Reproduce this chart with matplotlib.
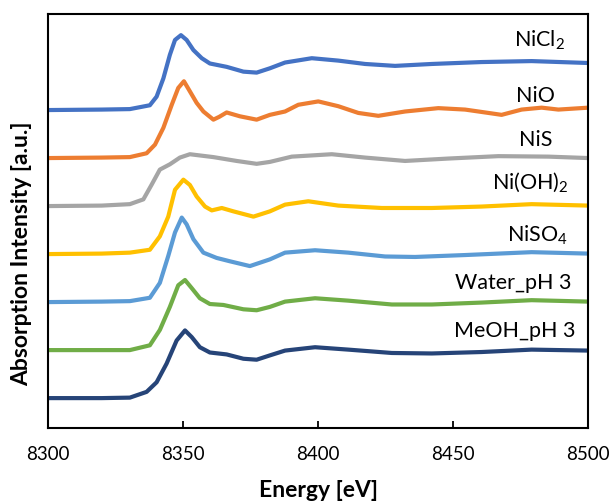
import matplotlib.pyplot as plt

plt.rcParams['font.family'] = ['Lato', 'DejaVu Sans']
plt.rcParams['mathtext.fontset'] = 'custom'
plt.rcParams['mathtext.rm'] = 'Lato'

# normalized Ni K-edge XANES (relative to pre-edge)
e_nicl2 = [8300, 8320, 8330.4, 8337.8, 8340.3, 8342.8, 8345.2, 8347.1, 8349.3, 8351.4, 8353.9,
           8357, 8360, 8366.2, 8372.4, 8377.3, 8382.2, 8387.8, 8397.7, 8407.5, 8417.4, 8428.5,
           8442.1, 8460.5, 8479, 8500]
mu_nicl2 = [0, 0.01, 0.02, 0.10, 0.28, 0.66, 1.15, 1.46, 1.56, 1.46, 1.25,
            1.08, 0.97, 0.90, 0.80, 0.78, 0.87, 0.99, 1.08, 1.03, 0.96, 0.92,
            0.96, 1.00, 1.02, 0.98]

e_nio = [8300, 8320, 8330.4, 8336.6, 8339.7, 8342.8, 8345.9, 8348.3, 8350.4, 8352.6, 8355.1,
         8357.6, 8361.3, 8363.5, 8366.2, 8371.1, 8377.3, 8382.2, 8387.8, 8392.7, 8400.1, 8407.5,
         8414.9, 8422.3, 8432.2, 8444.5, 8454.4, 8461.8, 8467.9, 8475.3, 8482.7, 8488.9, 8500]
mu_nio = [0, 0.01, 0.02, 0.10, 0.28, 0.63, 1.11, 1.46, 1.60, 1.39, 1.15,
          0.97, 0.80, 0.86, 0.95, 0.87, 0.80, 0.90, 0.97, 1.11, 1.18, 1.08,
          0.94, 0.88, 0.97, 1.04, 1.01, 0.95, 0.90, 1.01, 1.05, 1.01, 1.05]

e_nis = [8300, 8320, 8330.4, 8335.4, 8338.5, 8341.5, 8345.2, 8348.9, 8352.6, 8361.3, 8369.9,
         8377.3, 8382.2, 8390.3, 8405.1, 8417.4, 8432.2, 8448.2, 8466.7, 8485.2, 8500]
mu_nis = [0, 0.01, 0.04, 0.14, 0.45, 0.76, 0.87, 1.01, 1.08, 1.02, 0.94,
          0.88, 0.92, 1.03, 1.08, 1.01, 0.94, 0.99, 1.04, 1.03, 1.00]

e_nioh2 = [8300, 8320, 8330.4, 8337.8, 8341.5, 8344.6, 8347.1, 8350.2, 8352.6, 8355.1, 8358.2,
           8360.7, 8364.4, 8368.7, 8376.1, 8382.2, 8387.8, 8396.4, 8407.5, 8423.6, 8442.1,
           8460.5, 8479, 8500]
mu_nioh2 = [0, 0.01, 0.03, 0.09, 0.37, 0.78, 1.34, 1.55, 1.44, 1.20, 0.99,
            0.91, 0.96, 0.89, 0.78, 0.89, 1.03, 1.10, 1.01, 0.96, 0.96,
            0.99, 1.04, 1.01]

e_niso4 = [8300, 8320, 8330.4, 8337.8, 8341.5, 8344.6, 8347.1, 8349.6, 8351.4, 8353.9, 8357.6,
           8362.5, 8367.4, 8374.8, 8382.2, 8387.8, 8398.9, 8411.2, 8424.8, 8435.9, 8454.4,
           8479, 8500]
mu_niso4 = [0, 0.01, 0.02, 0.09, 0.40, 0.96, 1.45, 1.76, 1.62, 1.31, 1.03,
            0.92, 0.85, 0.75, 0.89, 1.03, 1.08, 1.03, 0.95, 0.94, 0.98,
            1.04, 1.01]

e_water = [8300, 8320, 8330.4, 8337.8, 8341.5, 8345.2, 8348.3, 8350.8, 8353.3, 8356.3, 8360,
           8365, 8372.4, 8377.3, 8382.2, 8387.8, 8398.9, 8411.2, 8427.3, 8442.1, 8460.5,
           8479, 8500]
mu_water = [0, 0.0, 0.0, 0.10, 0.42, 0.90, 1.35, 1.46, 1.29, 1.08, 0.96,
            0.94, 0.85, 0.83, 0.90, 1.01, 1.08, 1.03, 0.95, 0.95, 0.99,
            1.04, 1.01]

e_meoh = [8300, 8320, 8330.4, 8336.6, 8340.3, 8344, 8347.7, 8350.8, 8353.3, 8356.3, 8360,
          8366.2, 8372.4, 8377.3, 8382.2, 8387.8, 8398.9, 8411.2, 8427.3, 8442.1, 8460.5,
          8479, 8500]
mu_meoh = [0, 0.0, 0.01, 0.13, 0.33, 0.72, 1.20, 1.41, 1.27, 1.06, 0.95,
           0.91, 0.82, 0.80, 0.89, 0.99, 1.06, 1.01, 0.94, 0.93, 0.96,
           1.01, 0.99]

names = ['NiCl$\\mathregular{_2}$', 'NiO', 'NiS', 'Ni(OH)$\\mathregular{_2}$',
         'NiSO$\\mathregular{_4}$', 'Water_pH 3', 'MeOH_pH 3']
energies = [e_nicl2, e_nio, e_nis, e_nioh2, e_niso4, e_water, e_meoh]
spectra = [mu_nicl2, mu_nio, mu_nis, mu_nioh2, mu_niso4, mu_water, mu_meoh]
offsets = [6.63, 5.63, 4.63, 3.63, 2.63, 1.63, 0.63]
colors = ['#4472C4', '#ED7D31', '#A5A5A5', '#FFC000', '#5B9BD5', '#70AD47', '#264478']

# label anchor (right edge) and baseline height
label_x = [8491.4, 8487.7, 8486.7, 8492.6, 8492.6, 8493.9, 8495.2]
label_y = [7.95, 6.80, 5.88, 5.00, 3.89, 2.90, 1.90]

fig = plt.figure(figsize=(6.11, 5.01), dpi=100)
ax = fig.add_axes([0.078, 0.145, 0.885, 0.8265])

for e, mu, off, c in zip(energies, spectra, offsets, colors):
    ax.plot(e, [m + off for m in mu], color=c, lw=3.0,
            solid_capstyle='butt', solid_joinstyle='round')

for name, x, y in zip(names, label_x, label_y):
    ax.text(x, y, name, ha='right', va='baseline', fontsize=15.5)

ax.set_xlim(8300, 8500)
ax.set_ylim(0, 8.625)
ax.set_xticks([8300, 8350, 8400, 8450, 8500])
ax.set_yticks([])
ax.tick_params(axis='x', direction='in', length=5, width=1.3, pad=13, labelsize=13.5)
for s in ax.spines.values():
    s.set_linewidth(1.5)
    s.set_color('black')

ax.set_xlabel('Energy [eV]', fontsize=16.5, fontweight='bold', va='center')
ax.set_ylabel('Absorption Intensity [a.u.]', fontsize=16.5, fontweight='bold', va='center')
ax.xaxis.set_label_coords(0.5, -0.149)
ax.yaxis.set_label_coords(-0.048, 0.421)

fig.savefig('out.png', dpi=100)
